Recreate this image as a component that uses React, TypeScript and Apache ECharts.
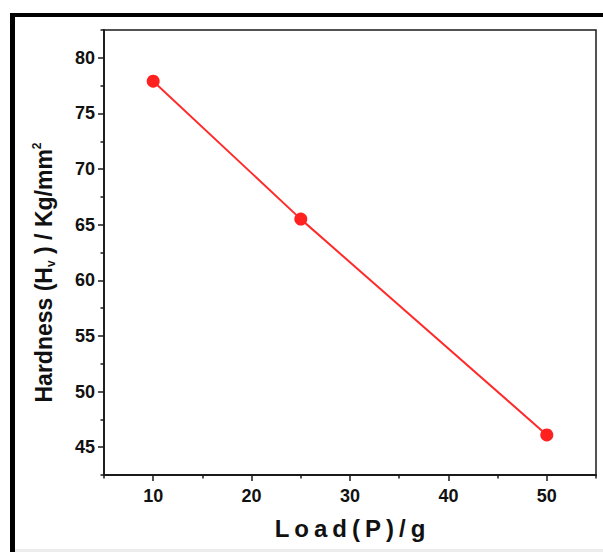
import React, { useEffect, useRef } from "react";
import * as echarts from "echarts";

const loads = [10, 25, 50];
const hardness = [77.9, 65.5, 46.1];
const xMajorTicks = [10, 20, 30, 40, 50];
const xMinorTicks = [5, 15, 25, 35, 45, 55];
const yMajorTicks = [45, 50, 55, 60, 65, 70, 75, 80];
const yMinorTicks = [42.5, 47.5, 52.5, 57.5, 62.5, 67.5, 72.5, 77.5, 82.5];
const xName = "Load(P)/g";

export default function App() {
  const ref = useRef<HTMLDivElement>(null);
  useEffect(() => {
    if (!ref.current) return;
    const chart = echarts.init(ref.current, null, { renderer: "svg" });
    const font = "Liberation Sans, Arial, sans-serif";
    const axisColor = "#1a1a1a";
    chart.setOption({
      animation: false,
      backgroundColor: "#ffffff",
      grid: {
        left: 104,
        right: 7,
        top: 30,
        bottom: 77,
        show: true,
        borderColor: axisColor,
        borderWidth: 1.5,
        backgroundColor: "transparent",
      },
      xAxis: [
        {
          type: "value",
          min: 5,
          max: 55,
          position: "bottom",
          splitLine: { show: false },
          axisLine: { show: true, lineStyle: { color: axisColor, width: 1.8 } },
          axisTick: {
            show: true,
            inside: false,
            length: 6,
            customValues: xMajorTicks,
            lineStyle: { color: axisColor, width: 1.5 },
          },
          axisLabel: {
            customValues: xMajorTicks,
            margin: 12,
            color: "#111",
            fontFamily: font,
            fontWeight: "bold",
            fontSize: 18,
          },
          name: xName,
          nameLocation: "middle",
          nameGap: 41,
          nameTextStyle: {
            fontFamily: font,
            fontWeight: "bold",
            fontSize: 24,
            color: "#111",
            padding: [0, 0, 0, 5],
          },
        },
        {
          type: "value",
          min: 5,
          max: 55,
          position: "bottom",
          splitLine: { show: false },
          axisLine: { show: false },
          axisTick: {
            show: true,
            inside: false,
            length: 3.5,
            customValues: xMinorTicks,
            lineStyle: { color: axisColor, width: 1.5 },
          },
          axisLabel: { show: false },
        },
      ],
      yAxis: [
        {
          type: "value",
          min: 42.5,
          max: 82.5,
          position: "left",
          splitLine: { show: false },
          axisLine: { show: true, lineStyle: { color: axisColor, width: 1.8 } },
          axisTick: {
            show: true,
            inside: false,
            length: 6,
            customValues: yMajorTicks,
            lineStyle: { color: axisColor, width: 1.5 },
          },
          axisLabel: {
            customValues: yMajorTicks,
            margin: 9,
            color: "#111",
            fontFamily: font,
            fontWeight: "bold",
            fontSize: 18,
          },
          name: "Hardness (H{sub|v} ) / Kg/mm{sup|2}",
          nameLocation: "middle",
          nameGap: 47,
          nameRotate: 90,
          nameTextStyle: {
            fontFamily: font,
            fontWeight: "bold",
            fontSize: 23,
            color: "#111",
            lineHeight: 26,
            padding: [0, 40, 0, 0],
            rich: {
              sub: {
                fontFamily: font,
                fontWeight: "bold",
                fontSize: 12,
                color: "#111",
                verticalAlign: "bottom",
                lineHeight: 26,
              },
              sup: {
                fontFamily: font,
                fontWeight: "bold",
                fontSize: 12,
                color: "#111",
                verticalAlign: "top",
                lineHeight: 26,
              },
            },
          },
        },
        {
          type: "value",
          min: 42.5,
          max: 82.5,
          position: "left",
          splitLine: { show: false },
          axisLine: { show: false },
          axisTick: {
            show: true,
            inside: false,
            length: 3.5,
            customValues: yMinorTicks,
            lineStyle: { color: axisColor, width: 1.5 },
          },
          axisLabel: { show: false },
        },
      ],
      graphic: [
        {
          type: "rect",
          shape: { x: 10, y: 13, width: 5, height: 545 },
          style: { fill: "#000" },
          silent: true,
        },
        {
          type: "rect",
          shape: { x: 10, y: 13, width: 600, height: 4 },
          style: { fill: "#000" },
          silent: true,
        },
        {
          type: "rect",
          shape: { x: 15, y: 549, width: 600, height: 3 },
          style: { fill: "#ececec" },
          silent: true,
        },
      ],
      series: [
        {
          type: "line",
          data: loads.map((x, i) => [x, hardness[i]]),
          xAxisIndex: 0,
          yAxisIndex: 0,
          symbol: "circle",
          symbolSize: 13,
          lineStyle: { color: "#ff2b2b", width: 2 },
          itemStyle: { color: "#ff2020" },
          z: 5,
        },
      ],
    });
    const applySpacing = () => {
      const texts = ref.current?.querySelectorAll("text") || [];
      texts.forEach((t) => {
        if (t.textContent === xName) {
          (t as SVGTextElement).style.letterSpacing = "5px";
        }
      });
    };
    applySpacing();
    chart.on("finished", applySpacing);
    return () => {
      chart.dispose();
    };
  }, []);
  return (
    <div
      ref={ref}
      style={{ position: "fixed", left: 0, top: 0, width: 603, height: 552 }}
    />
  );
}
